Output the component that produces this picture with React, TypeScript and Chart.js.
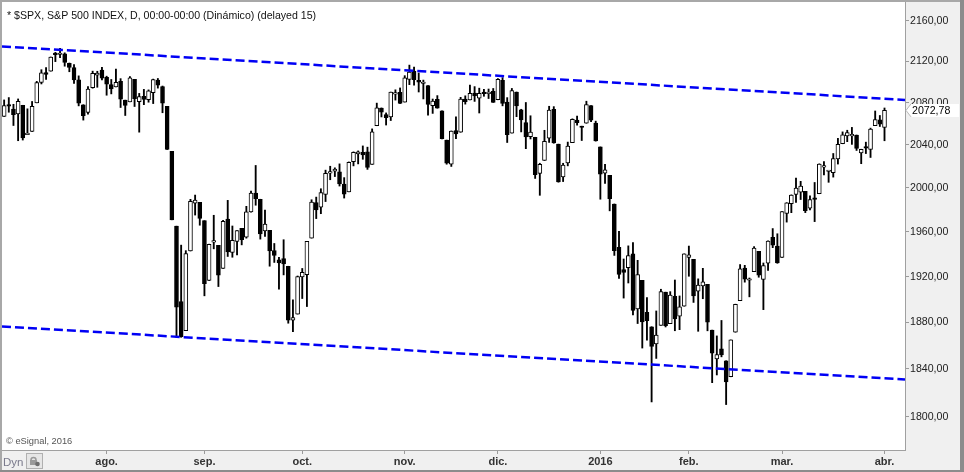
import React, { useEffect, useRef } from "react";
import { Chart, registerables } from "chart.js";

Chart.register(...registerables);

// ---- DATA ----
const monthDays: [string, number[]][] = [
  ["2015-07", [1, 2, 6, 7, 8, 9, 10, 13, 14, 15, 16, 17, 20, 21, 22, 23, 24, 27, 28, 29, 30, 31]],
  ["2015-08", [3, 4, 5, 6, 7, 10, 11, 12, 13, 14, 17, 18, 19, 20, 21, 24, 25, 26, 27, 28, 31]],
  ["2015-09", [1, 2, 3, 4, 8, 9, 10, 11, 14, 15, 16, 17, 18, 21, 22, 23, 24, 25, 28, 29, 30]],
  ["2015-10", [1, 2, 5, 6, 7, 8, 9, 12, 13, 14, 15, 16, 19, 20, 21, 22, 23, 26, 27, 28, 29, 30]],
  ["2015-11", [2, 3, 4, 5, 6, 9, 10, 11, 12, 13, 16, 17, 18, 19, 20, 23, 24, 25, 27, 30]],
  ["2015-12", [1, 2, 3, 4, 7, 8, 9, 10, 11, 14, 15, 16, 17, 18, 21, 22, 23, 24, 28, 29, 30, 31]],
  ["2016-01", [4, 5, 6, 7, 8, 11, 12, 13, 14, 15, 19, 20, 21, 22, 25, 26, 27, 28, 29]],
  ["2016-02", [1, 2, 3, 4, 5, 8, 9, 10, 11, 12, 16, 17, 18, 19, 22, 23, 24, 25, 26, 29]],
  ["2016-03", [1, 2, 3, 4, 7, 8, 9, 10, 11, 14, 15, 16, 17, 18, 21, 22, 23, 24, 28, 29, 30, 31]],
  ["2016-04", [1]],
];

const opens = [
  2067.0, 2078.03, 2073.95, 2069.52, 2077.66, 2049.73, 2052.74, 2080.03, 2099.72, 2109.21, 2110.55, 2126.8, 2126.85, 2127.55, 2118.21, 2114.16, 2102.24, 2078.19, 2070.75, 2094.7, 2106.78, 2111.6,
  2104.49, 2097.68, 2095.27, 2100.75, 2082.61, 2080.98, 2102.66, 2081.1, 2086.19, 2083.15, 2089.7, 2101.99, 2095.69, 2076.61, 2034.08, 1965.15, 1898.08, 1872.75, 1942.77, 1986.06, 1986.73,
  1970.09, 1916.52, 1950.79, 1947.76, 1927.3, 1971.45, 1941.59, 1951.45, 1963.06, 1955.1, 1978.02, 1995.33, 1989.66, 1960.84, 1961.39, 1943.24, 1934.81, 1935.93, 1929.18, 1881.9, 1887.14,
  1919.65, 1921.77, 1954.33, 1986.63, 1982.34, 1994.01, 2013.73, 2015.65, 2015.0, 2003.66, 1996.47, 2024.37, 2031.73, 2033.13, 2033.47, 2021.88, 2058.19, 2075.08, 2068.75, 2066.48, 2088.35, 2090.0,
  2080.76, 2102.63, 2110.6, 2101.68, 2098.6, 2096.56, 2077.19, 2083.41, 2072.29, 2044.64, 2022.08, 2053.67, 2051.99, 2083.7, 2082.82, 2089.41, 2084.42, 2089.3, 2088.82, 2090.95,
  2082.93, 2101.71, 2080.71, 2051.24, 2090.42, 2073.39, 2061.17, 2047.93, 2047.27, 2013.37, 2025.55, 2046.5, 2073.76, 2040.81, 2010.27, 2023.15, 2042.2, 2063.52, 2057.77, 2060.54, 2077.34, 2060.59,
  2038.2, 2013.78, 2011.71, 1985.32, 1945.97, 1926.12, 1927.83, 1940.34, 1891.68, 1916.68, 1888.66, 1876.18, 1861.46, 1877.4, 1906.28, 1878.79, 1902.52, 1885.22, 1894.0,
  1936.94, 1935.26, 1907.07, 1911.67, 1913.07, 1873.25, 1848.46, 1857.1, 1847.0, 1833.4, 1871.44, 1898.8, 1927.57, 1916.74, 1924.44, 1942.38, 1917.56, 1931.87, 1954.95, 1947.13,
  1937.09, 1976.6, 1985.6, 1994.01, 1996.11, 1996.88, 1981.44, 1990.97, 1994.71, 2019.27, 2015.27, 2014.24, 2026.9, 2041.16, 2048.64, 2048.64, 2049.4, 2032.48, 2037.89, 2035.75, 2058.27, 2063.77,
  2056.62,
];

const highs = [
  2082.78, 2085.06, 2078.61, 2083.74, 2077.66, 2074.28, 2081.31, 2100.67, 2111.98, 2114.14, 2124.42, 2128.91, 2132.82, 2128.49, 2118.51, 2116.87, 2106.01, 2078.19, 2095.6, 2110.6, 2110.48, 2114.24,
  2105.7, 2102.51, 2112.66, 2103.32, 2082.61, 2105.35, 2102.66, 2089.06, 2092.93, 2092.45, 2102.87, 2103.47, 2096.17, 2076.61, 2034.08, 1965.15, 1948.04, 1943.09, 1989.6, 1993.48, 1986.73,
  1970.09, 1948.91, 1975.01, 1947.76, 1970.42, 1988.63, 1965.29, 1961.05, 1963.06, 1983.19, 1997.26, 2020.86, 1989.66, 1979.64, 1961.39, 1949.52, 1937.17, 1952.89, 1929.18, 1899.48, 1920.53,
  1927.21, 1951.36, 1989.17, 1991.62, 1999.31, 2016.5, 2020.13, 2018.66, 2022.34, 2009.56, 2024.15, 2033.54, 2034.45, 2039.12, 2037.97, 2055.2, 2079.74, 2075.14, 2070.37, 2090.35, 2092.52, 2094.32,
  2106.2, 2116.48, 2114.59, 2108.78, 2101.91, 2096.56, 2083.67, 2086.94, 2072.29, 2044.64, 2053.22, 2066.69, 2085.31, 2086.74, 2097.06, 2095.61, 2094.12, 2093.0, 2093.29, 2093.81,
  2103.37, 2104.27, 2085.0, 2093.84, 2090.42, 2073.85, 2080.33, 2067.65, 2047.27, 2022.92, 2053.87, 2076.72, 2076.37, 2040.81, 2022.9, 2042.74, 2064.73, 2067.36, 2057.77, 2081.56, 2077.34, 2062.54,
  2038.2, 2021.94, 2011.71, 1985.32, 1960.4, 1935.65, 1947.38, 1950.33, 1934.47, 1916.68, 1901.44, 1876.18, 1889.85, 1908.85, 1906.28, 1906.73, 1916.99, 1902.96, 1940.24,
  1947.2, 1935.26, 1918.01, 1927.35, 1913.07, 1873.25, 1868.25, 1881.6, 1847.0, 1864.78, 1895.77, 1930.68, 1930.0, 1918.78, 1946.7, 1942.38, 1932.08, 1951.83, 1962.96, 1958.27,
  1978.35, 1986.51, 1993.69, 2009.13, 2006.12, 1996.88, 1992.69, 2005.08, 2022.37, 2024.57, 2015.94, 2032.02, 2046.24, 2052.36, 2053.91, 2056.6, 2049.4, 2036.04, 2042.67, 2055.91, 2072.21, 2067.92,
  2075.07,
];

const lows = [
  2067.0, 2071.02, 2058.4, 2044.02, 2044.66, 2049.73, 2052.74, 2080.03, 2098.18, 2102.49, 2110.55, 2119.88, 2123.66, 2115.4, 2110.0, 2098.63, 2077.09, 2063.52, 2069.09, 2094.08, 2094.97, 2102.07,
  2087.31, 2088.6, 2095.27, 2075.53, 2067.91, 2080.98, 2076.49, 2052.09, 2078.26, 2080.61, 2079.3, 2094.14, 2070.53, 2035.73, 1970.89, 1867.01, 1867.08, 1872.75, 1942.77, 1975.19, 1965.98,
  1903.07, 1916.52, 1944.72, 1911.21, 1927.3, 1937.88, 1937.19, 1939.19, 1948.27, 1954.3, 1977.93, 1984.17, 1953.45, 1955.8, 1929.22, 1932.57, 1908.92, 1921.5, 1879.21, 1871.91, 1887.14,
  1900.7, 1893.7, 1954.33, 1971.99, 1976.44, 1987.53, 2007.61, 2010.55, 2001.78, 1990.73, 1996.47, 2020.46, 2022.31, 2026.61, 2017.22, 2021.88, 2058.19, 2066.53, 2058.84, 2063.11, 2082.63, 2079.34,
  2080.76, 2097.51, 2096.98, 2090.41, 2083.74, 2068.24, 2069.91, 2074.85, 2045.66, 2022.02, 2019.94, 2045.9, 2051.99, 2078.76, 2082.82, 2081.39, 2070.29, 2086.3, 2084.13, 2080.41,
  2082.93, 2077.11, 2042.35, 2051.24, 2066.78, 2052.32, 2036.53, 2045.67, 2008.8, 1993.26, 2025.55, 2042.43, 2041.66, 2005.33, 2005.93, 2020.49, 2042.2, 2058.73, 2044.2, 2060.54, 2061.97, 2043.62,
  1989.68, 2004.17, 1979.05, 1938.83, 1918.46, 1901.1, 1914.35, 1886.41, 1878.93, 1857.83, 1864.6, 1812.29, 1848.98, 1877.4, 1875.97, 1878.79, 1872.7, 1873.65, 1894.0,
  1920.3, 1897.29, 1872.23, 1900.52, 1872.65, 1828.46, 1834.94, 1850.32, 1810.1, 1833.4, 1871.44, 1898.8, 1915.09, 1902.17, 1924.44, 1919.44, 1891.0, 1925.41, 1945.78, 1931.81,
  1937.09, 1968.8, 1977.37, 1986.77, 1989.38, 1977.43, 1979.84, 1969.25, 1994.71, 2012.05, 2005.23, 2010.04, 2022.16, 2041.16, 2043.14, 2040.57, 2034.86, 2022.49, 2031.96, 2028.31, 2058.27, 2057.46,
  2043.98,
];

const closes = [
  2077.42, 2076.78, 2068.76, 2081.34, 2046.68, 2051.31, 2076.62, 2099.6, 2108.95, 2107.4, 2124.29, 2126.64, 2128.28, 2119.21, 2114.15, 2102.15, 2079.65, 2067.64, 2093.25, 2108.57, 2108.63, 2103.84,
  2098.04, 2093.32, 2099.84, 2083.56, 2077.57, 2104.18, 2084.07, 2086.05, 2083.39, 2091.54, 2102.44, 2096.92, 2079.61, 2035.73, 1970.89, 1893.21, 1867.61, 1940.51, 1987.66, 1988.87, 1972.18,
  1913.85, 1948.86, 1951.13, 1921.22, 1969.41, 1942.04, 1952.29, 1961.05, 1953.03, 1978.09, 1995.31, 1990.2, 1958.03, 1966.97, 1942.74, 1938.76, 1932.24, 1931.34, 1881.77, 1884.09, 1920.03,
  1923.82, 1951.36, 1987.05, 1979.92, 1995.83, 2013.43, 2014.89, 2017.46, 2003.69, 1994.24, 2023.86, 2033.11, 2033.66, 2030.77, 2018.94, 2052.51, 2075.15, 2071.18, 2065.89, 2090.35, 2089.41, 2079.36,
  2104.05, 2109.79, 2102.31, 2099.93, 2099.2, 2078.58, 2081.72, 2075.0, 2045.97, 2023.04, 2053.19, 2050.44, 2083.58, 2081.24, 2089.17, 2086.59, 2089.14, 2088.87, 2090.11, 2080.41,
  2102.63, 2079.51, 2049.62, 2091.69, 2077.07, 2063.59, 2047.62, 2052.23, 2012.37, 2021.94, 2043.41, 2073.07, 2041.89, 2005.55, 2021.15, 2038.97, 2064.29, 2060.99, 2056.5, 2078.36, 2063.36, 2043.94,
  2012.66, 2016.71, 1990.26, 1943.09, 1922.03, 1923.67, 1938.68, 1890.28, 1921.84, 1880.33, 1881.33, 1859.33, 1868.99, 1906.9, 1877.08, 1903.63, 1882.95, 1893.36, 1940.24,
  1939.38, 1903.03, 1912.53, 1915.45, 1880.05, 1853.44, 1852.21, 1851.86, 1829.08, 1864.78, 1895.58, 1926.82, 1917.83, 1917.78, 1945.5, 1921.27, 1929.8, 1951.7, 1948.05, 1932.23,
  1978.35, 1986.45, 1993.4, 1999.99, 2001.76, 1979.26, 1989.26, 1989.57, 2022.19, 2019.64, 2015.93, 2027.22, 2040.59, 2049.58, 2051.6, 2049.8, 2036.71, 2035.94, 2037.05, 2055.01, 2063.95, 2059.74,
  2072.78,
];

const monthTickLabels = ["ago.", "sep.", "oct.", "nov.", "dic.", "2016", "feb.", "mar.", "abr."];
const priceTicks = [1800, 1840, 1880, 1920, 1960, 2000, 2040, 2080, 2120, 2160];
const upperTrend = [2134.8, 2082.8];
const lowerTrend = [1876.4, 1831.1];
const xRange = [-0.46, 193.4];
const yRange = [1772.6, 2178.9];

const titleText = "* $SPX, S&P 500 INDEX, D, 00:00-00:00 (Dinámico) (delayed 15)";
const copyrightText = "© eSignal, 2016";

// ---- derived ----
const dates: string[] = [];
const monthTickIdx: number[] = [];
monthDays.forEach(([ym, days], m) => {
  if (m > 0) monthTickIdx.push(dates.length);
  days.forEach((d) => dates.push(`${ym}-${String(d).padStart(2, "0")}`));
});

const FONT = "'Liberation Sans', Arial, sans-serif";
const fmt = (v: number) => v.toFixed(2).replace(".", ",");

const decorPlugin = {
  id: "decor",
  beforeDraw(chart: any) {
    const { ctx, chartArea: a, width, height } = chart;
    ctx.save();
    ctx.fillStyle = "#f0f0f0";
    ctx.fillRect(0, 0, width, height);
    ctx.fillStyle = "#ffffff";
    ctx.fillRect(a.left, a.top, a.right - a.left, a.bottom - a.top);
    ctx.restore();
  },
  afterDraw(chart: any) {
    const { ctx, chartArea: a, width, height } = chart;
    const yS = chart.scales.y;
    ctx.save();
    // frame
    ctx.fillStyle = "#a8a8a8";
    ctx.fillRect(0, 0, width, 2);
    ctx.fillRect(0, 0, 2, height);
    ctx.fillStyle = "#8c8c8c";
    ctx.fillRect(width - 4, 0, 4, height);
    ctx.fillRect(0, height - 2, width, 2);

    // title
    ctx.fillStyle = "#111";
    ctx.font = `10.6px ${FONT}`;
    ctx.textBaseline = "alphabetic";
    ctx.textAlign = "left";
    ctx.fillText(titleText, 7, 19);

    // copyright
    ctx.fillStyle = "#555";
    ctx.font = `9.3px ${FONT}`;
    ctx.fillText(copyrightText, 6, 444);

    // Dyn + lock button
    ctx.fillStyle = "#7a7a8c";
    ctx.font = `11.5px ${FONT}`;
    ctx.fillText("Dyn", 3, 465.5);
    ctx.fillStyle = "#e6e6e6";
    ctx.fillRect(26.5, 453.5, 16, 15);
    ctx.strokeStyle = "#b0b0b0";
    ctx.lineWidth = 1;
    ctx.strokeRect(26.5, 453.5, 16, 15);
    ctx.strokeStyle = "#9a9a9a";
    ctx.lineWidth = 1.5;
    ctx.beginPath();
    ctx.arc(33.5, 460, 2.5, Math.PI, 2 * Math.PI);
    ctx.stroke();
    ctx.fillStyle = "#9a9a9a";
    ctx.fillRect(30, 460, 7, 5);
    ctx.fillStyle = "#6e6e6e";
    ctx.beginPath();
    ctx.arc(37.5, 464, 2.3, 0, 2 * Math.PI);
    ctx.fill();

    // last price label
    const last = closes[closes.length - 1];
    const y = yS.getPixelForValue(last);
    ctx.fillStyle = "#ffffff";
    ctx.beginPath();
    ctx.moveTo(a.right + 1, y);
    ctx.lineTo(a.right + 6, y - 6.5);
    ctx.lineTo(width - 5, y - 6.5);
    ctx.lineTo(width - 5, y + 6.5);
    ctx.lineTo(a.right + 6, y + 6.5);
    ctx.closePath();
    ctx.fill();
    ctx.strokeStyle = "#b8b8b8";
    ctx.lineWidth = 1;
    ctx.beginPath();
    ctx.moveTo(a.right + 6, y - 6.5);
    ctx.lineTo(a.right + 1, y);
    ctx.lineTo(a.right + 6, y + 6.5);
    ctx.stroke();
    ctx.fillStyle = "#000";
    ctx.font = `10.6px ${FONT}`;
    ctx.textBaseline = "middle";
    ctx.fillText(fmt(last), a.right + 7, y + 0.5);
    ctx.restore();
  },
};

export default function App() {
  const ref = useRef<HTMLCanvasElement | null>(null);

  useEffect(() => {
    if (!ref.current) return;
    const bodies = dates.map((_, i) => ({
      x: i,
      y: [Math.min(opens[i], closes[i]), Math.max(opens[i], closes[i])],
    }));
    const wicks = dates.map((_, i) => ({ x: i, y: [lows[i], highs[i]] }));
    const bodyColors = dates.map((_, i) => (closes[i] >= opens[i] ? "#ffffff" : "#000000"));

    const chart = new Chart(ref.current, {
      type: "bar",
      data: {
        datasets: [
          {
            type: "line",
            label: "upper",
            data: [
              { x: xRange[0], y: upperTrend[0] },
              { x: xRange[1], y: upperTrend[1] },
            ],
            borderColor: "#0000f5",
            borderWidth: 2.5,
            borderDash: [9, 4],
            pointRadius: 0,
            fill: false,
            order: 0,
          } as any,
          {
            type: "line",
            label: "lower",
            data: [
              { x: xRange[0], y: lowerTrend[0] },
              { x: xRange[1], y: lowerTrend[1] },
            ],
            borderColor: "#0000f5",
            borderWidth: 2.5,
            borderDash: [9, 4],
            pointRadius: 0,
            fill: false,
            order: 0,
          } as any,
          {
            type: "bar",
            label: "body",
            data: bodies as any,
            backgroundColor: bodyColors,
            borderColor: "#000000",
            borderWidth: 1,
            borderSkipped: false,
            barThickness: 4,
            minBarLength: 1.5,
            grouped: false,
            order: 1,
          } as any,
          {
            type: "bar",
            label: "wick",
            data: wicks as any,
            backgroundColor: "#000000",
            borderWidth: 0,
            barThickness: 1.2,
            grouped: false,
            order: 2,
          } as any,
        ],
      },
      options: {
        responsive: false,
        animation: false,
        events: [],
        layout: { padding: { left: 2, top: 2, right: 4, bottom: 2 } },
        plugins: { legend: { display: false }, tooltip: { enabled: false }, title: { display: false } },
        scales: {
          x: {
            type: "linear",
            position: "bottom",
            min: xRange[0],
            max: xRange[1],
            offset: false,
            grid: { drawOnChartArea: false, drawTicks: true, tickLength: 4, color: "#9a9a9a", offset: false },
            border: { display: true, color: "#a0a0a0", width: 1 },
            ticks: {
              autoSkip: false,
              maxRotation: 0,
              minRotation: 0,
              padding: 1,
              color: "#333333",
              font: { family: FONT, size: 11, weight: "bold" },
              callback: (_v: any, idx: number) => monthTickLabels[idx] ?? "",
            },
            afterBuildTicks: (s: any) => {
              s.ticks = monthTickIdx.map((v) => ({ value: v }));
            },
            afterFit: (s: any) => {
              s.height = 20;
              s.paddingLeft = 0;
              s.paddingRight = 0;
            },
          } as any,
          y: {
            type: "logarithmic",
            position: "right",
            min: yRange[0],
            max: yRange[1],
            grid: { drawOnChartArea: false, drawTicks: true, tickLength: 4, color: "#9a9a9a" },
            border: { display: true, color: "#a0a0a0", width: 1 },
            ticks: {
              padding: 1,
              color: "#222222",
              font: { family: FONT, size: 10.6 },
              callback: (v: any) => fmt(Number(v)),
            },
            afterBuildTicks: (s: any) => {
              s.ticks = priceTicks.map((v) => ({ value: v }));
            },
            afterFit: (s: any) => {
              s.width = 55;
              s.paddingTop = 0;
              s.paddingBottom = 0;
            },
          } as any,
        },
      },
      plugins: [decorPlugin],
    });
    return () => chart.destroy();
  }, []);

  return (
    <div style={{ position: "absolute", left: 0, top: 0, width: 964, height: 472 }}>
      <canvas ref={ref} width={964} height={472} style={{ width: 964, height: 472, display: "block" }} />
    </div>
  );
}
